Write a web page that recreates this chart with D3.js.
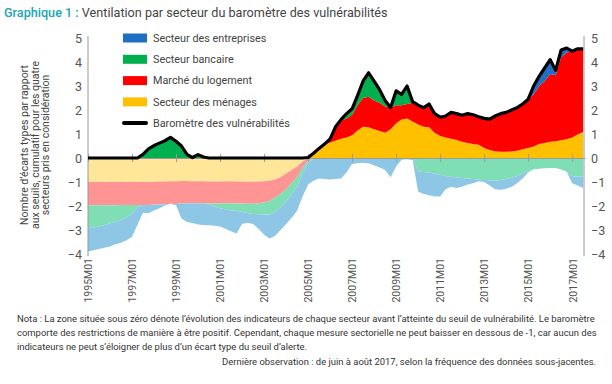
<!DOCTYPE html>
<html>
<head>
<meta charset="utf-8">
<script src="https://cdn.jsdelivr.net/npm/d3@7/dist/d3.min.js"></script>
<style>
  body { margin: 0; background: #fff; }
  text { font-family: Roboto, "Noto Sans", sans-serif; }
</style>
</head>
<body>
<svg width="612" height="384"></svg>
<script>
// quarterly readings, 1995M01 .. 2017M07 (one value every 3 months)
var menages = [
  -1.00, -1.00, -0.99, -1.00, -0.99, -1.00, -0.99, -1.00, -0.99, -1.00,
  -0.99, -1.00, -0.99, -0.98, -0.98, -0.97, -0.97, -0.96, -0.96, -0.97,
  -0.97, -0.97, -0.98, -0.98, -0.98, -0.97, -0.97, -0.98, -0.98, -0.99,
  -0.99, -0.98, -0.97, -0.95, -0.90, -0.80, -0.65, -0.50, -0.35, -0.15,
  0.02, 0.20, 0.40, 0.55, 0.65, 0.72, 0.80, 0.85, 0.95, 1.15,
  1.30, 1.28, 1.20, 1.12, 1.05, 1.20, 1.45, 1.60, 1.65, 1.52,
  1.40, 1.30, 1.28, 1.05, 0.92, 0.85, 0.80, 0.75, 0.68, 0.62,
  0.58, 0.55, 0.42, 0.33, 0.28, 0.26, 0.26, 0.27, 0.30, 0.36,
  0.42, 0.48, 0.58, 0.62, 0.68, 0.70, 0.74, 0.78, 0.85, 0.98,
  1.08
];
var logement = [
  -0.98, -0.97, -0.98, -0.97, -0.98, -0.97, -0.97, -0.96, -0.97, -0.96,
  -0.97, -0.96, -0.95, -0.96, -0.95, -0.94, -0.95, -0.94, -0.93, -0.92,
  -0.92, -0.92, -0.92, -0.92, -0.91, -0.92, -0.92, -0.92, -0.92, -0.92,
  -0.92, -0.91, -0.88, -0.85, -0.75, -0.70, -0.65, -0.55, -0.45, -0.25,
  -0.10, -0.03, 0.00, 0.03, 0.15, 0.58, 0.75, 0.80, 0.85, 1.05,
  1.20, 1.27, 1.20, 1.18, 1.10, 0.90, 0.75, 0.60, 0.60, 0.78,
  0.80, 0.80, 0.97, 0.80, 0.78, 0.90, 1.10, 1.10, 1.10, 1.23,
  1.22, 1.17, 1.23, 1.29, 1.47, 1.59, 1.64, 1.73, 1.80, 1.89,
  2.03, 2.17, 2.42, 2.58, 2.82, 2.75, 3.46, 3.62, 3.60, 3.57,
  3.47
];
var bancaire = [
  -0.95, -0.93, -0.88, -0.82, -0.75, -0.70, -0.63, -0.52, -0.35, -0.08,
  0.15, 0.38, 0.52, 0.62, 0.72, 0.78, 0.70, 0.50, 0.15, 0.02,
  0.14, 0.04, -0.05, -0.12, -0.20, -0.25, -0.30, -0.30, -0.35, -0.38,
  -0.42, -0.45, -0.50, -0.55, -0.60, -0.55, -0.50, -0.45, -0.40, -0.25,
  -0.10, 0.00, 0.00, 0.00, 0.00, 0.00, 0.05, 0.20, 0.25, 0.40,
  0.70, 1.00, 0.80, 0.55, 0.25, 0.00, 0.60, 0.45, 0.75, 0.05,
  -0.55, -0.58, -0.60, -0.65, -0.70, -0.75, -0.78, -0.80, -0.83, -0.85,
  -0.87, -0.90, -0.92, -0.93, -0.95, -0.92, -0.88, -0.82, -0.75, -0.65,
  -0.55, -0.47, -0.45, -0.43, -0.42, -0.42, -0.48, -0.57, -0.75, -0.78,
  -0.78
];
var entreprises = [
  -0.97, -0.94, -0.94, -0.95, -0.97, -0.92, -0.94, -0.95, -0.97, -0.74,
  -0.32, -0.34, -0.25, -0.15, -0.05, 0.08, -0.05, -0.62, -0.78, -0.82,
  -0.88, -0.90, -0.85, -0.80, -0.76, -0.81, -0.86, -0.95, -0.50, -0.41,
  -0.42, -0.61, -0.85, -1.00, -1.00, -0.95, -0.95, -1.00, -1.00, -0.95,
  -0.90, -0.92, -0.85, -0.88, -0.90, -0.88, -0.85, -0.60, -0.25, -0.22,
  -0.20, -0.22, -0.30, -0.40, -0.50, -0.80, -0.35, -0.07, -0.05, -0.08,
  -0.85, -0.92, -0.95, -0.95, -0.90, -0.55, -0.42, -0.45, -0.37, -0.25,
  -0.18, -0.07, -0.08, -0.22, -0.35, -0.40, -0.40, -0.38, -0.30, -0.20,
  -0.05, 0.35, 0.40, 0.55, 0.60, 0.20, 0.30, 0.18, -0.30, -0.37,
  -0.47
];

var keys = ['menages', 'logement', 'bancaire', 'entreprises'];
var seriesNames = {
  menages: 'Secteur des ménages',
  logement: 'Marché du logement',
  bancaire: 'Secteur bancaire',
  entreprises: 'Secteur des entreprises'
};
var strongColor = { menages: '#ffc000', logement: '#ff0000', bancaire: '#00b050', entreprises: '#1f6fc4' };
var lightColor = { menages: '#ffe699', logement: '#ff9494', bancaire: '#80deb4', entreprises: '#8ec7e6' };

var xTickLabels = ['1995M01', '1997M01', '1999M01', '2001M01', '2003M01', '2005M01',
  '2007M01', '2009M01', '2011M01', '2013M01', '2015M01', '2017M01'];
var yTicks = [5, 4, 3, 2, 1, 0, -1, -2, -3, -4];

var notes = [
  'Nota : La zone située sous zéro dénote l’évolution des indicateurs de chaque secteur avant l’atteinte du seuil de vulnérabilité. Le baromètre',
  'comporte des restrictions de manière à être positif. Cependant, chaque mesure sectorielle ne peut baisser en dessous de -1, car aucun des',
  'indicateurs ne peut s’éloigner de plus d’un écart type du seuil d’alerte.'
];
var lastObs = 'Dernière observation : de juin à août 2017, selon la fréquence des données sous-jacentes.';

// shrink or grow a text so that it spans the given width
function fitWidth(sel, width) {
  var size = parseFloat(sel.attr('font-size'));
  var len = sel.node().getComputedTextLength();
  sel.attr('font-size', size * width / len);
  return size * width / len;
}

var parse = d3.timeParse('%YM%m');
var start = parse('1995M01');
var rows = menages.map(function (v, i) {
  return {
    date: d3.timeMonth.offset(start, 3 * i),
    menages: v,
    logement: logement[i],
    bancaire: bancaire[i],
    entreprises: entreprises[i]
  };
});

var svg = d3.select('svg');
var x = d3.scaleTime().domain([parse('1995M01'), parse('2017M08')]).range([88, 585]);
var y = d3.scaleLinear().domain([-4, 5]).range([254, 38]);

var posStack = d3.stack().keys(keys).value(function (d, k) { return Math.max(d[k], 0); })(rows);
var negStack = d3.stack().keys(keys).value(function (d, k) { return Math.min(d[k], 0); })(rows);

var area = d3.area()
  .x(function (d) { return x(d.data.date); })
  .y0(function (d) { return y(d[0]); })
  .y1(function (d) { return y(d[1]); });

svg.append('g').selectAll('path')
  .data(negStack)
  .enter().append('path')
  .attr('fill', function (d) { return lightColor[d.key]; })
  .attr('d', area);

svg.append('g').selectAll('path')
  .data(posStack)
  .enter().append('path')
  .attr('fill', function (d) { return strongColor[d.key]; })
  .attr('d', area);

// axis lines
svg.append('line').attr('x1', 88).attr('x2', 88).attr('y1', 36).attr('y2', 256)
  .attr('stroke', '#9a9a9a');
svg.append('line').attr('x1', 584).attr('x2', 584).attr('y1', 36).attr('y2', 256)
  .attr('stroke', '#9a9a9a');

var tickDates = xTickLabels.map(parse);

var zeroAxis = svg.append('g')
  .attr('transform', 'translate(0,' + y(0) + ')')
  .call(d3.axisBottom(x).tickValues(tickDates).tickSize(4).tickSizeOuter(0).tickFormat(''));
zeroAxis.select('.domain').attr('stroke', '#9a9a9a');
zeroAxis.selectAll('.tick line').attr('y1', -4).attr('y2', 4).attr('stroke', '#9a9a9a');

// barometer
var barometre = d3.line()
  .x(function (d) { return x(d.data.date); })
  .y(function (d) { return y(d[1]); });
svg.append('path')
  .datum(posStack[posStack.length - 1])
  .attr('fill', 'none')
  .attr('stroke', '#000')
  .attr('stroke-width', 3.2)
  .attr('stroke-linejoin', 'round')
  .attr('d', barometre);

// y labels
var leftAxis = svg.append('g').attr('transform', 'translate(82,0)')
  .call(d3.axisLeft(y).tickValues(yTicks).tickSize(0).tickPadding(0));
var rightAxis = svg.append('g').attr('transform', 'translate(591,0)')
  .call(d3.axisRight(y).tickValues(yTicks).tickSize(0).tickPadding(0));
[leftAxis, rightAxis].forEach(function (g) {
  g.select('.domain').remove();
  g.selectAll('text').attr('font-size', 12.5).attr('fill', '#555')
    .style('font-family', 'Roboto, sans-serif');
});

// x labels
var bottomAxis = svg.append('g').attr('transform', 'translate(0,258)')
  .call(d3.axisBottom(x).tickValues(tickDates).tickSize(0)
    .tickFormat(function (d, i) { return xTickLabels[i]; }));
bottomAxis.select('.domain').remove();
bottomAxis.selectAll('text')
  .attr('font-size', 10.5).attr('fill', '#555')
  .style('font-family', 'Roboto, sans-serif')
  .attr('text-anchor', 'end')
  .attr('transform', 'rotate(-90)')
  .attr('x', 0).attr('y', 0).attr('dy', '0.36em');

// y title
var yTitle = ['Nombre d’écarts types par rapport', 'aux seuils, cumulatif pour les quatre', 'secteurs pris en considération'];
svg.append('text')
  .attr('transform', 'translate(28,145) rotate(-90)')
  .attr('text-anchor', 'middle')
  .attr('font-size', 10.5).attr('fill', '#444')
  .selectAll('tspan').data(yTitle).enter().append('tspan')
  .attr('x', 0).attr('dy', function (d, i) { return i ? 10.5 : 0; })
  .text(function (d) { return d; });

// legend
var legendKeys = ['entreprises', 'bancaire', 'logement', 'menages'];
var legend = svg.append('g');
legendKeys.forEach(function (k, i) {
  var ly = 38 + i * 21.3;
  legend.append('rect').attr('x', 123).attr('y', ly - 4.5).attr('width', 24).attr('height', 9)
    .attr('fill', strongColor[k]);
  legend.append('text').attr('class', 'leg').attr('x', 153).attr('y', ly).attr('dy', '0.35em')
    .attr('font-size', 11.5).attr('fill', '#444').text(seriesNames[k]);
});
legend.append('line').attr('x1', 124).attr('x2', 146).attr('y1', 123).attr('y2', 123)
  .attr('stroke', '#000').attr('stroke-width', 4).attr('stroke-linecap', 'round');
var lastLeg = legend.append('text').attr('class', 'leg').attr('x', 153).attr('y', 123).attr('dy', '0.35em')
  .attr('font-size', 11.5).attr('fill', '#444').text('Baromètre des vulnérabilités');
var legSize = fitWidth(lastLeg, 137);
legend.selectAll('.leg').attr('font-size', legSize);

// title
var title = svg.append('text').attr('x', 4).attr('y', 17).attr('font-size', 13.5);
title.append('tspan').attr('fill', '#1aa6b5').attr('font-weight', 500).text('Graphique 1 : ');
title.append('tspan').attr('fill', '#444').text('Ventilation par secteur du baromètre des vulnérabilités');
fitWidth(title, 384);

// notes
var noteText = svg.append('g').selectAll('text').data(notes).enter().append('text')
  .attr('x', 17).attr('y', function (d, i) { return 322 + i * 14; })
  .attr('font-size', 10).attr('fill', '#333')
  .text(function (d) { return d; });
var noteSize = fitWidth(d3.select(noteText.nodes()[0]), 579);
noteText.attr('font-size', noteSize);
svg.append('text').attr('x', 596).attr('y', 365).attr('text-anchor', 'end')
  .attr('font-size', noteSize).attr('fill', '#333').text(lastObs);
</script>
</body>
</html>
